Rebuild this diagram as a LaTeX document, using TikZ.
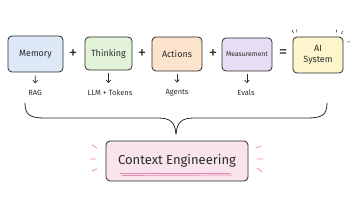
\documentclass[tikz,border=0pt]{standalone}
\usepackage{fontspec}
\setmainfont{Fira Sans}
\usetikzlibrary{arrows.meta}
\definecolor{ink}{HTML}{2B2B2B}
\definecolor{memfill}{HTML}{DDE8F7}
\definecolor{thkfill}{HTML}{E3F3DA}
\definecolor{actfill}{HTML}{FBE3CC}
\definecolor{measfill}{HTML}{E7DDF5}
\definecolor{aifill}{HTML}{FDF5CC}
\definecolor{ctxfill}{HTML}{F9E3EC}
\definecolor{pinkline}{HTML}{E28AAE}
\begin{document}
\begin{tikzpicture}[x=1pt,y=-1pt,
  box/.style={draw=ink,line width=0.8pt,rounded corners=4pt,align=center,inner sep=0pt,text=ink},
  op/.style={text=ink,font=\fontsize{17}{17}\selectfont},
  lbl/.style={text=ink,font=\fontsize{7.5}{8}\selectfont},
  arr/.style={-{Straight Barb[length=2.5pt,width=4.5pt]},draw=ink,line width=0.7pt,shorten <=3pt,shorten >=3.5pt},
  ray/.style={draw=pinkline,line width=0.7pt,line cap=round}]
\useasboundingbox (0,0) rectangle (356,200);
\node[box,fill=memfill,minimum width=55pt,minimum height=36pt,font=\fontsize{9}{10}\selectfont] (mem) at (35.5,54) {Memory};
\node[box,fill=thkfill,minimum width=47pt,minimum height=33pt,font=\fontsize{9}{10}\selectfont] (thk) at (108.5,53.5) {Thinking};
\node[box,fill=actfill,minimum width=50pt,minimum height=34pt,font=\fontsize{9}{10}\selectfont] (act) at (177,54) {Actions};
\node[box,fill=measfill,minimum width=50pt,minimum height=33pt,font=\fontsize{6.8}{8}\selectfont] (meas) at (247,54.5) {Measurement};
\node[box,fill=aifill,minimum width=50pt,minimum height=36pt,font=\fontsize{9}{10.5}\selectfont] (ai) at (318,55) {AI\\System};
\node[op] (p1) at (73,54) {+};
\node[op] (p2) at (142,54) {+};
\node[op] (p3) at (213,54) {+};
\node[op] (eq) at (283,54) {=};
\node[lbl] (rag) at (35,93) {RAG};
\node[lbl] (llm) at (110,93) {LLM + Tokens};
\node[lbl] (agt) at (177,93) {Agents};
\node[lbl] (evl) at (246,93) {Evals};
\draw[arr] (mem.south) -- (rag.north);
\draw[arr] (thk.south) -- (thk.south |- llm.north);
\draw[arr] (act.south) -- (agt.north);
\draw[arr] (meas.south) -- (meas.south |- evl.north);
% sparkles around AI System
\draw[draw=ink,line width=0.5pt,line cap=round] (292,30) -- (293.5,33) (296.5,29.5) -- (297,32.5) (337,29.5) -- (336,32.5) (343,31) -- (341,34) (347,42) -- (350,42);
% brace
\coordinate (bl) at (25,103);
\coordinate (br) at (327,103);
\coordinate (bt) at (176,134);
\draw[ink,line width=0.8pt,line cap=round] (bl) .. controls (25,116) and (31,118) .. (46,118) -- (158,118) .. controls (170,118) and (175,122) .. (bt);
\draw[ink,line width=0.8pt,line cap=round] (br) .. controls (327,116) and (321,118) .. (306,118) -- (194,118) .. controls (182,118) and (177,122) .. (bt);
% context engineering
\node[box,fill=ctxfill,minimum width=142pt,minimum height=40pt,font=\fontsize{13}{14}\selectfont] (ctx) at (177,161) {Context Engineering};
\draw[ray] ([xshift=-57pt,yshift=-12pt]ctx.center) -- ([xshift=53pt,yshift=-12pt]ctx.center);
\draw[ray] ([xshift=-55pt,yshift=-14.5pt]ctx.center) -- ([xshift=55pt,yshift=-14pt]ctx.center);
\draw[ray] (92,145) -- (97,148) (90,159) -- (96,159) (92,171) -- (97,169);
\draw[ray] (256,148) -- (261,146) (257,159) -- (263,159) (257,168) -- (262,172);
\end{tikzpicture}
\end{document}
